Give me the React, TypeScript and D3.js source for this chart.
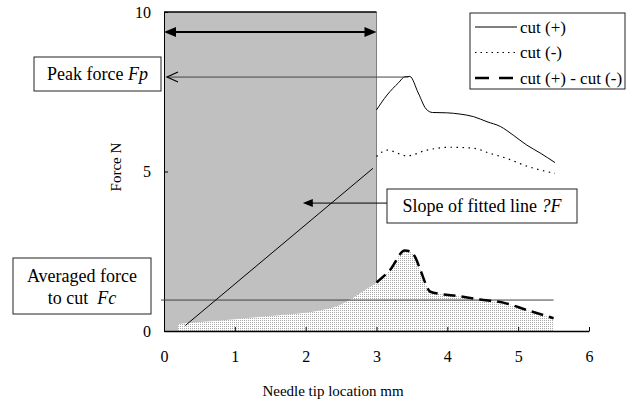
import React, { useEffect, useRef } from 'react';
import * as d3 from 'd3';

// Force vs needle tip location (mm)
const cutPlusX = [3.0, 3.15, 3.31, 3.4, 3.47, 3.59, 3.7, 3.79, 3.99, 4.18, 4.37, 4.56, 4.75, 4.93, 5.12, 5.31, 5.52];
const cutPlusY = [6.93, 7.4, 7.78, 7.97, 7.98, 7.46, 6.96, 6.85, 6.84, 6.8, 6.72, 6.56, 6.41, 6.14, 5.83, 5.58, 5.28];

const cutMinusX = [3.0, 3.15, 3.43, 3.71, 4.04, 4.37, 4.6, 4.84, 5.12, 5.52];
const cutMinusY = [5.47, 5.67, 5.49, 5.67, 5.76, 5.73, 5.57, 5.41, 5.17, 4.94];

// difference curve, drawn dashed from 3 mm on
const diffX = [3.0, 3.19, 3.4, 3.47, 3.55, 3.62, 3.76, 3.9, 4.13, 4.46, 4.79, 5.12, 5.5];
const diffY = [1.52, 1.91, 2.52, 2.5, 2.3, 1.91, 1.23, 1.16, 1.1, 0.99, 0.89, 0.66, 0.4];

// difference before 3 mm (only shown as filled area)
const diffLowX = [0.2, 0.5, 1.0, 1.5, 2.0, 2.2, 2.45, 2.7, 2.85];
const diffLowY = [0.22, 0.28, 0.37, 0.47, 0.57, 0.64, 0.78, 1.08, 1.3];

const fitX = [0.3, 2.95];
const fitY = [0.17, 5.1];

const avgForce = 0.97;
const avgFrom = -0.04;
const avgTo = 5.5;

const shadeFrom = 0;
const shadeTo = 3;

const xTicks = [0, 1, 2, 3, 4, 5, 6];
const yTicks = [0, 5, 10];

const legendLabels = ['cut (+)', 'cut (-)', 'cut (+) - cut (-)'];

const W = 629;
const H = 401;
const margin = { top: 12, right: 40, bottom: 70, left: 164 };
const font = "'Liberation Serif', 'Times New Roman', 'DejaVu Serif', serif";

export default function App() {
  const xAxisRef = useRef<SVGGElement>(null);
  const yAxisRef = useRef<SVGGElement>(null);

  const x = d3.scaleLinear().domain([0, 6]).range([margin.left, W - margin.right]);
  const y = d3.scaleLinear().domain([0, 10]).range([H - margin.bottom, margin.top]);

  useEffect(() => {
    const xa = d3.select(xAxisRef.current!);
    xa.call(d3.axisBottom(x).tickValues(xTicks).tickSizeInner(-4).tickSizeOuter(0).tickPadding(20).tickFormat(d3.format('d')));
    xa.attr('font-family', null).attr('font-size', null);
    xa.select('.domain').attr('stroke', '#000').attr('stroke-width', 1.5);
    xa.selectAll('text').style('font-family', font).style('font-size', '16px').attr('fill', '#000');

    const ya = d3.select(yAxisRef.current!);
    ya.call(d3.axisLeft(y).tickValues(yTicks).tickSizeInner(-4).tickSizeOuter(0).tickPadding(13).tickFormat(d3.format('d')));
    ya.attr('font-family', null).attr('font-size', null);
    ya.select('.domain').attr('stroke', '#000').attr('stroke-width', 1);
    ya.selectAll('text').style('font-family', font).style('font-size', '16px').attr('fill', '#000');
  }, []);

  const toPts = (xs: number[], ys: number[]) => xs.map((v, i) => [v, ys[i]] as [number, number]);
  const line = d3.line<[number, number]>().x(d => x(d[0])).y(d => y(d[1]));
  const smooth = d3.line<[number, number]>().x(d => x(d[0])).y(d => y(d[1])).curve(d3.curveMonotoneX);
  const area = d3
    .area<[number, number]>()
    .x(d => x(d[0]))
    .y0(y(0))
    .y1(d => y(d[1]))
    .curve(d3.curveMonotoneX);

  const areaPts = toPts(diffLowX, diffLowY).concat(toPts(diffX, diffY));

  // annotation anchors (data units)
  const spanY = 9.37;
  const peakY = 7.96;
  const peakX = 3.45;
  const slopeArrowY = 4.01;
  const slopeTipX = 1.96;

  const boxStroke = '#222';
  const txt = { fontFamily: font } as React.CSSProperties;

  return (
    <svg width={W} height={H} style={{ position: 'absolute', left: 0, top: 0, background: '#fff' }}>
      <defs>
        <pattern id="stip" width="2" height="2" patternUnits="userSpaceOnUse">
          <rect width="2" height="2" fill="#fff" />
          <rect width="1" height="1" fill="#a8a8a8" />
        </pattern>
      </defs>

      {/* shaded fitting region */}
      <rect x={x(shadeFrom)} y={y(10)} width={x(shadeTo) - x(shadeFrom)} height={y(0) - y(10)} fill="#c0c0c0" />
      <line x1={x(shadeTo)} x2={x(shadeTo)} y1={y(10)} y2={y(0)} stroke="#808080" strokeWidth={1} />
      <line x1={x(shadeFrom)} x2={x(shadeTo)} y1={y(10)} y2={y(10)} stroke="#000" strokeWidth={1.5} />

      {/* stippled area of the difference */}
      <path d={area(areaPts) || ''} fill="url(#stip)" />

      <g ref={xAxisRef} transform={`translate(0,${y(0)})`} />
      <g ref={yAxisRef} transform={`translate(${x(0)},0)`} />

      {/* averaged force */}
      <line x1={x(avgFrom)} x2={x(avgTo)} y1={y(avgForce)} y2={y(avgForce)} stroke="#404040" strokeWidth={1} />

      {/* fitted line */}
      <path d={line(toPts(fitX, fitY)) || ''} fill="none" stroke="#000" strokeWidth={1} />

      {/* curves */}
      <path d={smooth(toPts(cutPlusX, cutPlusY)) || ''} fill="none" stroke="#000" strokeWidth={1} />
      <path d={smooth(toPts(cutMinusX, cutMinusY)) || ''} fill="none" stroke="#000" strokeWidth={1.2} strokeDasharray="1.5,4.5" />
      <path d={smooth(toPts(diffX, diffY)) || ''} fill="none" stroke="#000" strokeWidth={2.5} strokeDasharray="12,6" />

      {/* double arrow over fitting span */}
      <line x1={x(shadeFrom) + 10} x2={x(shadeTo) - 10} y1={y(spanY)} y2={y(spanY)} stroke="#000" strokeWidth={2} />
      <path d={`M${x(shadeFrom)},${y(spanY)} l12,-5 l0,10 z`} fill="#000" />
      <path d={`M${x(shadeTo)},${y(spanY)} l-12,-5 l0,10 z`} fill="#000" />

      {/* peak force arrow */}
      <line x1={x(0) + 3} x2={x(peakX)} y1={y(peakY)} y2={y(peakY)} stroke="#444" strokeWidth={1} />
      <path d={`M${x(0) + 14},${y(peakY) - 5} L${x(0) + 3},${y(peakY)} L${x(0) + 14},${y(peakY) + 5}`} fill="none" stroke="#000" strokeWidth={1.2} />
      <rect x={34} y={57} width={127} height={34} fill="#fff" stroke={boxStroke} />
      <text x={97.5} y={80} textAnchor="middle" style={txt} fontSize={18}>
        Peak force <tspan fontStyle="italic">Fp</tspan>
      </text>

      {/* slope arrow */}
      <line x1={x(slopeTipX) + 8} x2={387} y1={y(slopeArrowY)} y2={y(slopeArrowY)} stroke="#000" strokeWidth={1} />
      <path d={`M${x(slopeTipX)},${y(slopeArrowY)} l10,-4 l0,8 z`} fill="#000" />
      <rect x={387} y={189} width={190} height={34} fill="#fff" stroke={boxStroke} />
      <text x={482} y={212} textAnchor="middle" style={txt} fontSize={18}>
        Slope of fitted line <tspan fontStyle="italic">?F</tspan>
      </text>

      {/* averaged force box */}
      <rect x={13} y={258} width={138} height={56} fill="#fff" stroke={boxStroke} />
      <text x={82} y={282} textAnchor="middle" style={txt} fontSize={18}>
        Averaged force
      </text>
      <text x={82} y={304} textAnchor="middle" style={txt} fontSize={18}>
        {'to cut\u00a0 '}<tspan fontStyle="italic">Fc</tspan>
      </text>

      {/* legend */}
      <rect x={470} y={13} width={155} height={76} fill="#fff" stroke={boxStroke} />
      {legendLabels.map((lab, i) => {
        const ly = 27 + i * 25.5;
        const dash = i === 1 ? '1.5,4' : i === 2 ? '14,10' : undefined;
        return (
          <g key={lab}>
            <line x1={475} x2={517} y1={ly} y2={ly} stroke="#000" strokeWidth={i === 2 ? 2.5 : i === 1 ? 1.2 : 1} strokeDasharray={dash} />
            <text x={520} y={ly + 5.5} style={txt} fontSize={17}>
              {lab}
            </text>
          </g>
        );
      })}

      {/* axis titles */}
      <text transform={`translate(121,167) rotate(-90)`} textAnchor="middle" style={txt} fontSize={15}>
        Force N
      </text>
      <text x={333} y={396} textAnchor="middle" style={txt} fontSize={15}>
        Needle tip location mm
      </text>
    </svg>
  );
}
